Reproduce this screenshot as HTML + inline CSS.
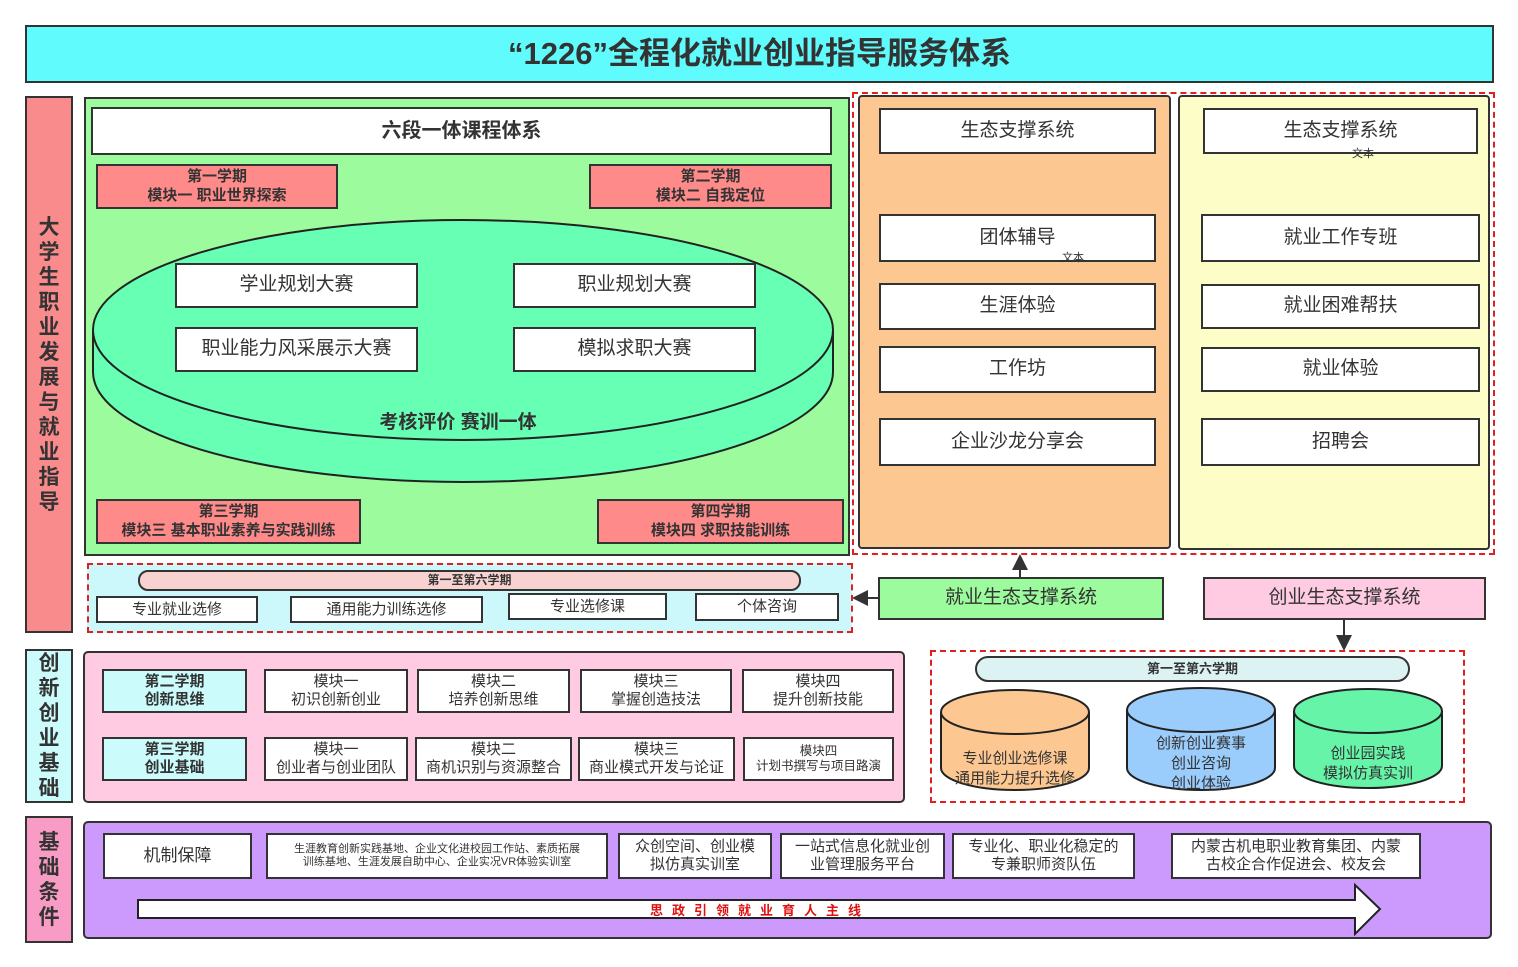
<!DOCTYPE html>
<html><head><meta charset="utf-8"><style>
body{margin:0;width:1518px;height:967px;background:#fff;position:relative;overflow:hidden;font-family:"Liberation Sans","Noto Sans CJK SC",sans-serif;color:#333}
.b{position:absolute;box-sizing:border-box;border:2px solid #333;display:flex;align-items:center;justify-content:center;text-align:center;line-height:1.2}
.w{background:#fff}
.r{background:#ff8a8a;font-weight:bold;font-size:15px;line-height:1.25}
.v{flex-direction:column;font-weight:bold;font-size:21px;line-height:25px;color:#333}
.d{position:absolute;box-sizing:border-box;border:2px dashed #e02020}
svg{position:absolute;left:0;top:0}
</style></head><body>
<div class="b" style="left:25px;top:25px;width:1469px;height:58px;background:#60fbfd;font-size:31px;font-weight:bold">“1226”全程化就业创业指导服务体系</div>

<div class="b v" style="left:25px;top:96px;width:48px;height:537px;background:#f98b8c">大<br>学<br>生<br>职<br>业<br>发<br>展<br>与<br>就<br>业<br>指<br>导</div>
<div class="b v" style="left:25px;top:649px;width:48px;height:154px;background:#ccfbfc">创<br>新<br>创<br>业<br>基<br>础</div>
<div class="b v" style="left:25px;top:816px;width:48px;height:127px;background:#f99cc5">基<br>础<br>条<br>件</div>

<div class="b" style="left:84px;top:97px;width:766px;height:459px;background:#9cfb9c"></div>
<div class="b w" style="left:91px;top:107px;width:741px;height:48px;font-size:20px;font-weight:bold">六段一体课程体系</div>
<div class="b r" style="left:96px;top:164px;width:242px;height:45px">第一学期<br>模块一 职业世界探索</div>
<div class="b r" style="left:589px;top:164px;width:243px;height:45px">第二学期<br>模块二 自我定位</div>
<div class="b r" style="left:96px;top:499px;width:265px;height:45px">第三学期<br>模块三 基本职业素养与实践训练</div>
<div class="b r" style="left:597px;top:499px;width:247px;height:45px">第四学期<br>模块四 求职技能训练</div>

<div class="b" style="left:858px;top:95px;width:313px;height:454px;background:#fdc791;border-radius:4px"></div>
<div class="b" style="left:1178px;top:95px;width:312px;height:455px;background:#fdfdc8;border-radius:4px"></div>
<div class="d" style="left:852px;top:92px;width:643px;height:463px"></div>

<svg width="1518" height="967">
<defs><marker id="a" markerWidth="8" markerHeight="8" refX="6" refY="4" orient="auto"><path d="M0,0L8,4L0,8z" fill="#333"/></marker></defs>
<path d="M93,330 L93,372 A370,110 0 0 0 833,372 L833,330" fill="#66ffb4" stroke="#222" stroke-width="2"/>
<ellipse cx="463" cy="330" rx="370" ry="110" fill="#66ffb4" stroke="#222" stroke-width="2"/>
<line x1="878" y1="598" x2="856" y2="598" stroke="#333" stroke-width="2" marker-end="url(#a)"/>
<line x1="1020" y1="577" x2="1020" y2="558" stroke="#333" stroke-width="2" marker-end="url(#a)"/>
<line x1="1344" y1="619" x2="1344" y2="647" stroke="#333" stroke-width="2" marker-end="url(#a)"/>
</svg>

<div class="b w" style="left:175px;top:263px;width:243px;height:45px;font-size:19px">学业规划大赛</div>
<div class="b w" style="left:513px;top:263px;width:243px;height:45px;font-size:19px">职业规划大赛</div>
<div class="b w" style="left:175px;top:327px;width:243px;height:45px;font-size:19px">职业能力风采展示大赛</div>
<div class="b w" style="left:513px;top:327px;width:243px;height:45px;font-size:19px">模拟求职大赛</div>
<div style="position:absolute;left:300px;top:407px;width:316px;text-align:center;font-size:19px;font-weight:bold">考核评价 赛训一体</div>

<div class="b w" style="left:879px;top:108px;width:277px;height:46px;font-size:19px">生态支撑系统</div>
<div class="b w" style="left:879px;top:214px;width:277px;height:48px;font-size:19px">团体辅导</div>
<div style="position:absolute;left:1062px;top:249px;font-size:11px">文本</div>
<div class="b w" style="left:879px;top:283px;width:277px;height:47px;font-size:19px">生涯体验</div>
<div class="b w" style="left:879px;top:346px;width:277px;height:47px;font-size:19px">工作坊</div>
<div class="b w" style="left:879px;top:418px;width:277px;height:48px;font-size:19px">企业沙龙分享会</div>

<div class="b w" style="left:1203px;top:108px;width:275px;height:46px;font-size:19px">生态支撑系统</div>
<div style="position:absolute;left:1352px;top:145px;font-size:11px">文本</div>
<div class="b w" style="left:1201px;top:214px;width:279px;height:48px;font-size:19px">就业工作专班</div>
<div class="b w" style="left:1201px;top:284px;width:279px;height:45px;font-size:19px">就业困难帮扶</div>
<div class="b w" style="left:1201px;top:347px;width:279px;height:45px;font-size:19px">就业体验</div>
<div class="b w" style="left:1201px;top:418px;width:279px;height:48px;font-size:19px">招聘会</div>

<div style="position:absolute;left:87px;top:563px;width:765px;height:70px;background:#ccf7fb"></div>
<div class="d" style="left:87px;top:563px;width:766px;height:70px"></div>
<div class="b" style="left:138px;top:570px;width:663px;height:21px;border-radius:10px;background:#f7d2d1;font-size:12px;font-weight:bold">第一至第六学期</div>
<div class="b w" style="left:96px;top:596px;width:162px;height:27px;font-size:15px">专业就业选修</div>
<div class="b w" style="left:290px;top:596px;width:193px;height:27px;font-size:15px">通用能力训练选修</div>
<div class="b w" style="left:508px;top:593px;width:159px;height:27px;font-size:15px">专业选修课</div>
<div class="b w" style="left:695px;top:593px;width:144px;height:28px;font-size:15px">个体咨询</div>

<div class="b" style="left:878px;top:577px;width:286px;height:43px;background:#9cfb9c;font-size:19px">就业生态支撑系统</div>
<div class="b" style="left:1203px;top:577px;width:283px;height:43px;background:#fecbe3;font-size:19px">创业生态支撑系统</div>

<div class="b" style="left:83px;top:651px;width:822px;height:152px;background:#fecbe3;border-radius:5px"></div>
<div class="b" style="left:102px;top:669px;width:145px;height:44px;background:#ccfbfc;font-size:15px;font-weight:bold">第二学期<br>创新思维</div>
<div class="b" style="left:102px;top:737px;width:145px;height:44px;background:#ccfbfc;font-size:15px;font-weight:bold">第三学期<br>创业基础</div>
<div class="b w" style="left:264px;top:669px;width:144px;height:44px;font-size:15px">模块一<br>初识创新创业</div>
<div class="b w" style="left:417px;top:669px;width:153px;height:44px;font-size:15px">模块二<br>培养创新思维</div>
<div class="b w" style="left:580px;top:669px;width:152px;height:44px;font-size:15px">模块三<br>掌握创造技法</div>
<div class="b w" style="left:742px;top:669px;width:152px;height:44px;font-size:15px">模块四<br>提升创新技能</div>
<div class="b w" style="left:264px;top:737px;width:144px;height:44px;font-size:15px">模块一<br>创业者与创业团队</div>
<div class="b w" style="left:415px;top:737px;width:157px;height:44px;font-size:15px">模块二<br>商机识别与资源整合</div>
<div class="b w" style="left:578px;top:737px;width:157px;height:44px;font-size:15px">模块三<br>商业模式开发与论证</div>
<div class="b w" style="left:743px;top:737px;width:151px;height:44px;font-size:12.5px">模块四<br>计划书撰写与项目路演</div>

<div class="d" style="left:930px;top:650px;width:535px;height:153px"></div>
<div class="b" style="left:975px;top:656px;width:435px;height:26px;border-radius:13px;background:#ddf3f3;font-size:13px;font-weight:bold">第一至第六学期</div>
<svg width="1518" height="967">
<g stroke="#222" stroke-width="2">
<path d="M941,712 L941,768 A74,22 0 0 0 1089,768 L1089,712" fill="#fdc791"/><ellipse cx="1015" cy="712" rx="74" ry="22" fill="#fdc791"/>
<path d="M1127,710 L1127,768 A74,22 0 0 0 1275,768 L1275,710" fill="#9accfc"/><ellipse cx="1201" cy="710" rx="74" ry="22" fill="#9accfc"/>
<path d="M1294,711 L1294,766 A74,22 0 0 0 1442,766 L1442,711" fill="#66f5a8"/><ellipse cx="1368" cy="711" rx="74" ry="22" fill="#66f5a8"/>
</g>
<g font-size="15" fill="#333" text-anchor="middle" font-family="Liberation Sans, Noto Sans CJK SC, sans-serif">
<text x="1015" y="763">专业创业选修课</text><text x="1015" y="783">通用能力提升选修</text>
<text x="1201" y="748">创新创业赛事</text><text x="1201" y="768">创业咨询</text><text x="1201" y="788">创业体验</text>
<text x="1368" y="758">创业园实践</text><text x="1368" y="778">模拟仿真实训</text>
</g>
</svg>

<div class="b" style="left:83px;top:821px;width:1409px;height:118px;background:#cc9afc;border-radius:5px"></div>
<div class="b w" style="left:103px;top:833px;width:149px;height:46px;font-size:17px">机制保障</div>
<div class="b w" style="left:266px;top:833px;width:342px;height:46px;font-size:11px">生涯教育创新实践基地、企业文化进校园工作站、素质拓展<br>训练基地、生涯发展自助中心、企业实况VR体验实训室</div>
<div class="b w" style="left:618px;top:833px;width:154px;height:46px;font-size:15px">众创空间、创业模<br>拟仿真实训室</div>
<div class="b w" style="left:780px;top:833px;width:165px;height:46px;font-size:15px">一站式信息化就业创<br>业管理服务平台</div>
<div class="b w" style="left:952px;top:833px;width:183px;height:46px;font-size:15px">专业化、职业化稳定的<br>专兼职师资队伍</div>
<div class="b w" style="left:1171px;top:833px;width:250px;height:46px;font-size:15px">内蒙古机电职业教育集团、内蒙<br>古校企合作促进会、校友会</div>
<svg width="1518" height="967">
<path d="M138,900 L1355,900 L1355,885 L1380,909 L1355,934 L1355,918 L138,918 Z" fill="#fff" stroke="#222" stroke-width="2"/>
<text x="760" y="915" font-size="13" font-weight="bold" fill="#e01010" text-anchor="middle" letter-spacing="9" font-family="Liberation Sans, Noto Sans CJK SC, sans-serif">思政引领就业育人主线</text>
</svg>
</body></html>
